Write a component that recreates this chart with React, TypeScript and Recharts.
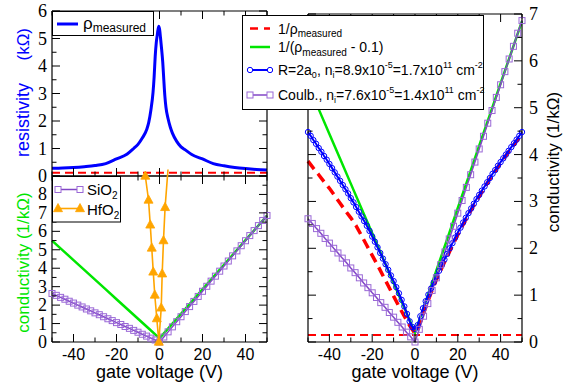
import React from 'react';
import { LineChart, Line, XAxis, YAxis, ReferenceLine } from 'recharts';

const W = 565;
const H = 390;
const SANS = '"Liberation Sans", Arial, Helvetica, sans-serif';
const SERIF = '"Liberation Serif", "Times New Roman", serif';

const BLUE = '#0000ff';
const RED = '#ff0000';
const GREEN = '#00e600';
const PURPLE_LINE = '#8246c6';
const PURPLE_MARK = '#9a68d6';
const ORANGE = '#ffa500';

// ---------------- data ----------------
// top-left: measured resistivity (kOhm) vs gate voltage (V)
const rhoV = [-50, -45, -40, -35, -30, -25, -20, -15, -12, -10, -8, -6, -5, -4, -3, -2.5, -2, -1.5, -1, -0.4, 0, 0.5, 1, 1.5, 2, 2.5, 3, 4, 5, 6, 8, 10, 12, 15, 20, 25, 30, 35, 40, 45, 50];
const rhoMeasured = [0.28, 0.29, 0.31, 0.34, 0.38, 0.45, 0.62, 0.8, 1.0, 1.15, 1.38, 1.68, 1.95, 2.4, 3.05, 3.6, 4.35, 4.85, 5.15, 5.45, 5.35, 5.0, 4.6, 4.15, 3.5, 2.9, 2.5, 2.08, 1.78, 1.56, 1.26, 1.06, 0.95, 0.78, 0.62, 0.45, 0.37, 0.31, 0.27, 0.24, 0.22];
const rhoOffsetLevel = 0.12;

// bottom-left: HfO2 conductivity
const hfV = [-6.6, -5.1, -4.3, -3.6, -2.9, -2.2, -1.25, -0.3, 0.8, 1.25, 1.85, 2.6, 3.95];
const hfSigma = [9.0, 7.7, 6.35, 5.1, 3.8, 2.55, 1.27, 0.0, 1.85, 3.7, 5.5, 7.3, 9.35];

// SiO2 / Coulomb conductivity (1/kOhm), 2 V spacing
const gate2V = [-50, -48, -46, -44, -42, -40, -38, -36, -34, -32, -30, -28, -26, -24, -22, -20, -18, -16, -14, -12, -10, -8, -6, -4, -2, 0, 2, 4, 6, 8, 10, 12, 14, 16, 18, 20, 22, 24, 26, 28, 30, 32, 34, 36, 38, 40, 42, 44, 46, 48, 50];
const sio2Sigma = [2.63, 2.53, 2.42, 2.32, 2.21, 2.11, 2.0, 1.9, 1.79, 1.69, 1.58, 1.48, 1.37, 1.26, 1.16, 1.05, 0.95, 0.84, 0.74, 0.63, 0.53, 0.42, 0.32, 0.21, 0.11, 0.0, 0.27, 0.55, 0.82, 1.1, 1.37, 1.65, 1.92, 2.2, 2.47, 2.75, 3.02, 3.3, 3.57, 3.84, 4.12, 4.39, 4.67, 4.94, 5.22, 5.49, 5.77, 6.04, 6.31, 6.59, 6.86];
const coulombSigma = [2.63, 2.53, 2.42, 2.32, 2.21, 2.11, 2.0, 1.9, 1.79, 1.69, 1.58, 1.48, 1.37, 1.26, 1.16, 1.05, 0.95, 0.84, 0.74, 0.63, 0.53, 0.42, 0.32, 0.21, 0.11, 0.0, 0.27, 0.55, 0.82, 1.1, 1.37, 1.65, 1.92, 2.2, 2.47, 2.75, 3.02, 3.3, 3.57, 3.84, 4.12, 4.39, 4.67, 4.94, 5.22, 5.49, 5.77, 6.04, 6.31, 6.59, 6.86];

// 1/(rho - 0.1), 5 V spacing
const gate5V = [-50, -45, -40, -35, -30, -25, -20, -15, -10, -5, 0, 5, 10, 15, 20, 25, 30, 35, 40, 45, 50];
const sigmaCorrected = [5.5, 4.97, 4.44, 3.91, 3.38, 2.85, 2.32, 1.79, 1.26, 0.73, 0.2, 0.86, 1.53, 2.19, 2.86, 3.52, 4.19, 4.85, 5.52, 6.18, 6.85];

// 1/rho measured, 2.5 V spacing
const gate25V = [-50, -47.5, -45, -42.5, -40, -37.5, -35, -32.5, -30, -27.5, -25, -22.5, -20, -17.5, -15, -12.5, -10, -7.5, -5, -2.5, 0, 2.5, 5, 7.5, 10, 12.5, 15, 17.5, 20, 22.5, 25, 27.5, 30, 32.5, 35, 37.5, 40, 42.5, 45, 47.5, 50];
const sigmaMeasured = [3.86, 3.71, 3.57, 3.42, 3.28, 3.12, 2.96, 2.8, 2.65, 2.48, 2.27, 2.06, 1.85, 1.64, 1.42, 1.2, 0.98, 0.76, 0.55, 0.35, 0.18, 0.42, 0.74, 1.05, 1.33, 1.58, 1.82, 2.06, 2.29, 2.51, 2.72, 2.92, 3.11, 3.3, 3.48, 3.65, 3.82, 3.98, 4.14, 4.29, 4.44];
const sigmaFloorLevel = 0.15;

// R = 2a0 short range model, 1.25 V spacing
const gate125V = [-50, -48.75, -47.5, -46.25, -45, -43.75, -42.5, -41.25, -40, -38.75, -37.5, -36.25, -35, -33.75, -32.5, -31.25, -30, -28.75, -27.5, -26.25, -25, -23.75, -22.5, -21.25, -20, -18.75, -17.5, -16.25, -15, -13.75, -12.5, -11.25, -10, -8.75, -7.5, -6.25, -5, -3.75, -2.5, -1.25, 0, 1.25, 2.5, 3.75, 5, 6.25, 7.5, 8.75, 10, 11.25, 12.5, 13.75, 15, 16.25, 17.5, 18.75, 20, 21.25, 22.5, 23.75, 25, 26.25, 27.5, 28.75, 30, 31.25, 32.5, 33.75, 35, 36.25, 37.5, 38.75, 40, 41.25, 42.5, 43.75, 45, 46.25, 47.5, 48.75, 50];
const shortRangeSigma = [4.48, 4.4, 4.31, 4.23, 4.14, 4.06, 3.97, 3.89, 3.8, 3.71, 3.62, 3.53, 3.44, 3.35, 3.26, 3.17, 3.07, 2.98, 2.88, 2.78, 2.68, 2.58, 2.48, 2.37, 2.25, 2.14, 2.02, 1.9, 1.78, 1.66, 1.54, 1.42, 1.3, 1.17, 1.04, 0.9, 0.76, 0.6, 0.44, 0.32, 0.28, 0.36, 0.55, 0.72, 0.87, 1.01, 1.14, 1.27, 1.4, 1.52, 1.64, 1.76, 1.88, 2.0, 2.11, 2.23, 2.34, 2.44, 2.55, 2.65, 2.75, 2.85, 2.95, 3.05, 3.14, 3.23, 3.32, 3.41, 3.5, 3.59, 3.67, 3.76, 3.84, 3.92, 4.0, 4.08, 4.16, 4.24, 4.32, 4.4, 4.48];

// ticks
const xTicks = [-50, -40, -30, -20, -10, 0, 10, 20, 30, 40, 50];
const rhoTicks = [0, 0.5, 1, 1.5, 2, 2.5, 3, 3.5, 4, 4.5, 5, 5.5, 6];
const condLeftTicks = [0, 0.5, 1, 1.5, 2, 2.5, 3, 3.5, 4, 4.5, 5, 5.5, 6, 6.5, 7, 7.5, 8, 8.5, 9];
const condRightTicks = [0, 0.5, 1, 1.5, 2, 2.5, 3, 3.5, 4, 4.5, 5, 5.5, 6, 6.5, 7];

const pts = (xs: number[], ys: number[]) => xs.map((v, i) => ({ v, y: ys[i] }));

// ---------------- layout ----------------
const LX0 = 52, LX1 = 267;
const TL_TOP = 11, TL_BOT = 176;
const BL_TOP = 176, BL_BOT = 342;
const RX0 = 308, RX1 = 522;
const R_TOP = 14, R_BOT = 342;
const AX = 1; // axis band thickness

const axisStyle = { stroke: '#000', strokeWidth: 1.2 };

type Side = 'bottom' | 'top' | 'left' | 'right';
const isX20 = (v: number) => Math.abs(v % 20) < 1e-9;
const isInt = (v: number) => Math.abs(v - Math.round(v)) < 1e-9;

const mkTick = (side: Side, isMajor: (v: number) => boolean, showLabel: (v: number) => boolean) => (props: any) => {
  const { x, y, payload, index } = props;
  const v = Number(payload.value);
  const major = isMajor(v);
  const len = major ? 8 : 4.5;
  const lbl = major && showLabel(v);
  let x2 = x, y2 = y, tx = x, ty = y;
  let anchor: any = 'middle';
  let fam = SANS;
  let fs = 16;
  if (side === 'bottom') { y2 = y - len; ty = y + 18; }
  else if (side === 'top') { y2 = y + len; }
  else if (side === 'left') { x2 = x + len; tx = x - 5; ty = y + 6; anchor = 'end'; fam = SERIF; fs = 18; }
  else { x2 = x - len; tx = x + 7; ty = y + 6; anchor = 'start'; fam = SERIF; fs = 18; }
  return (
    <g key={`t-${side}-${index}`}>
      <line x1={x} y1={y} x2={x2} y2={y2} stroke="#000" strokeWidth={1} />
      {lbl ? (
        <text x={tx} y={ty} textAnchor={anchor} fontFamily={fam} fontSize={fs} fill="#000">{String(v)}</text>
      ) : null}
    </g>
  );
};

const never = () => false;
const always = () => true;

const squareDot = (p: any) => {
  const { cx, cy, index } = p;
  if (cx == null || cy == null) return <g key={`sq-${index}`} />;
  return <rect key={`sq-${index}`} x={cx - 3} y={cy - 3} width={6} height={6} fill="none" stroke={PURPLE_MARK} strokeWidth={1} />;
};

const triDot = (p: any) => {
  const { cx, cy, index, payload } = p;
  if (cx == null || cy == null || (payload && payload.y > 9.1)) return <g key={`tr-${index}`} />;
  return <path key={`tr-${index}`} d={`M${cx},${cy - 5} L${cx + 4.5},${cy + 3.2} L${cx - 4.5},${cy + 3.2} Z`} fill={ORANGE} stroke={ORANGE} strokeWidth={0.8} />;
};

const abs: React.CSSProperties = { position: 'absolute', left: 0, top: 0 };

function axes(xLabel: boolean, yDomain: number[], yTicks: number[], leftLabel: (v: number) => boolean, rightLabel: (v: number) => boolean) {
  return [
    <XAxis key="xb" xAxisId="b" type="number" dataKey="v" orientation="bottom" domain={[-50, 50]} ticks={xTicks} interval={0} height={AX} tickSize={0} tickMargin={0} tickLine={false} axisLine={axisStyle} tick={mkTick('bottom', isX20, xLabel ? always : never)} />,
    <XAxis key="xt" xAxisId="t" type="number" dataKey="v" orientation="top" domain={[-50, 50]} allowDataOverflow ticks={xTicks} interval={0} height={AX} tickSize={0} tickMargin={0} tickLine={false} axisLine={axisStyle} tick={mkTick('top', isX20, never)} />,
    <YAxis key="yl" yAxisId="l" type="number" orientation="left" domain={yDomain} ticks={yTicks} interval={0} width={AX} tickSize={0} tickMargin={0} tickLine={false} axisLine={axisStyle} tick={mkTick('left', isInt, leftLabel)} />,
    <YAxis key="yr" yAxisId="r" type="number" orientation="right" domain={yDomain} allowDataOverflow ticks={yTicks} interval={0} width={AX} tickSize={0} tickMargin={0} tickLine={false} axisLine={axisStyle} tick={mkTick('right', isInt, rightLabel)} />,
  ];
}

const frameMargin = (x0: number, x1: number, y0: number, y1: number) => ({
  top: y0 - AX,
  left: x0 - AX,
  right: W - x1 - AX,
  bottom: H - y1 - AX,
});

export default function App() {
  const unitBL = (BL_BOT - BL_TOP) / 9;
  const hfTop = BL_BOT - 10 * unitBL;
  return (
    <div style={{ position: 'absolute', left: 0, top: 0, width: W, height: H, background: '#fff', overflow: 'hidden' }}>
      {/* top-left: resistivity */}
      <div style={abs}>
        <LineChart width={W} height={H} margin={frameMargin(LX0, LX1, TL_TOP, TL_BOT)}>
          {axes(false, [0, 6], rhoTicks, (v) => v <= 6, never)}
          <ReferenceLine xAxisId="b" yAxisId="l" y={rhoOffsetLevel} stroke={RED} strokeWidth={2} strokeDasharray="8 5" />
          <Line xAxisId="b" yAxisId="l" data={pts(rhoV, rhoMeasured)} dataKey="y" type="monotone" stroke={BLUE} strokeWidth={3} dot={false} isAnimationActive={false} />
        </LineChart>
      </div>
      {/* bottom-left: conductivity */}
      <div style={abs}>
        <LineChart width={W} height={H} margin={frameMargin(LX0, LX1, BL_TOP, BL_BOT)}>
          {axes(true, [0, 9], condLeftTicks, (v) => v <= 8, never)}
          <Line xAxisId="b" yAxisId="l" data={pts(gate5V, sigmaCorrected)} dataKey="y" type="linear" stroke={GREEN} strokeWidth={2.5} dot={false} isAnimationActive={false} />
          <Line xAxisId="b" yAxisId="l" data={pts(gate2V, sio2Sigma)} dataKey="y" type="linear" stroke={PURPLE_LINE} strokeWidth={1.5} dot={squareDot} isAnimationActive={false} />
        </LineChart>
      </div>
      {/* HfO2 overlay (same scale, taller range so the curve can pass the frame) */}
      <div style={abs}>
        <LineChart width={W} height={H} margin={{ top: hfTop, left: LX0, right: W - LX1, bottom: H - BL_BOT }}>
          <XAxis xAxisId="h" type="number" dataKey="v" domain={[-50, 50]} hide />
          <YAxis yAxisId="h" type="number" domain={[0, 10]} hide />
          <Line xAxisId="h" yAxisId="h" data={pts(hfV, hfSigma)} dataKey="y" type="linear" stroke={ORANGE} strokeWidth={1.6} dot={triDot} isAnimationActive={false} />
        </LineChart>
      </div>
      {/* right: conductivity comparison */}
      <div style={abs}>
        <LineChart width={W} height={H} margin={frameMargin(RX0, RX1, R_TOP, R_BOT)}>
          {axes(true, [0, 7], condRightTicks, never, always)}
          <ReferenceLine xAxisId="b" yAxisId="l" y={sigmaFloorLevel} stroke={RED} strokeWidth={2} strokeDasharray="8 5" />
          <Line xAxisId="b" yAxisId="l" data={pts(gate5V, sigmaCorrected)} dataKey="y" type="linear" stroke={GREEN} strokeWidth={2.5} dot={false} isAnimationActive={false} />
          <Line xAxisId="b" yAxisId="l" data={pts(gate25V, sigmaMeasured)} dataKey="y" type="linear" stroke={RED} strokeWidth={3.5} strokeDasharray="10 6" dot={false} isAnimationActive={false} />
          <Line xAxisId="b" yAxisId="l" data={pts(gate125V, shortRangeSigma)} dataKey="y" type="linear" stroke={BLUE} strokeWidth={2} dot={{ r: 2.7, stroke: BLUE, strokeWidth: 1, fill: 'none' }} isAnimationActive={false} />
          <Line xAxisId="b" yAxisId="l" data={pts(gate2V, coulombSigma)} dataKey="y" type="linear" stroke={PURPLE_LINE} strokeWidth={1.5} dot={squareDot} isAnimationActive={false} />
        </LineChart>
      </div>
      {/* titles and legends */}
      <svg width={W} height={H} style={abs}>
        <text transform="translate(29,157) rotate(-90)" fontFamily={SANS} fontSize={18} fill={BLUE}>resistivity</text>
        <text transform="translate(29,28) rotate(-90)" textAnchor="end" fontFamily={SANS} fontSize={17} fill={BLUE}>(kΩ)</text>
        <text transform="translate(29,262.5) rotate(-90)" textAnchor="middle" fontFamily={SANS} fontSize={17} fill={GREEN}>conductivity (1/kΩ)</text>
        <text transform="translate(559,162) rotate(-90)" textAnchor="middle" fontFamily={SANS} fontSize={17} fill="#000">conductivity (1/kΩ)</text>
        <text x={159.5} y={378} textAnchor="middle" fontFamily={SANS} fontSize={18} fill="#000">gate voltage (V)</text>
        <text x={415} y={378} textAnchor="middle" fontFamily={SANS} fontSize={18} fill="#000">gate voltage (V)</text>

        {/* top-left legend */}
        <rect x={52.5} y={11.5} width={101} height={24} fill="#fff" stroke="#000" strokeWidth={1} />
        <line x1={57} y1={24} x2={78} y2={24} stroke={BLUE} strokeWidth={3} />
        <text x={83} y={29} fontFamily={SANS} fontSize={17} fill="#000" style={{ whiteSpace: 'pre' }}>ρ<tspan dy={3} fontSize={12}>measured</tspan></text>

        {/* bottom-left legend */}
        <rect x={52.5} y={176.5} width={68} height={45.5} fill="#fff" stroke="#000" strokeWidth={1} />
        <line x1={58} y1={189.5} x2={80} y2={189.5} stroke={PURPLE_LINE} strokeWidth={1.5} />
        <rect x={55} y={186.5} width={6} height={6} fill="#fff" stroke={PURPLE_MARK} strokeWidth={1} />
        <rect x={77} y={186.5} width={6} height={6} fill="#fff" stroke={PURPLE_MARK} strokeWidth={1} />
        <text x={87} y={195} fontFamily={SANS} fontSize={15} fill="#000">SiO<tspan dy={4} fontSize={10}>2</tspan></text>
        <line x1={58} y1={208.5} x2={80} y2={208.5} stroke={ORANGE} strokeWidth={1.6} />
        <path d="M58,203.5 L62.5,211.7 L53.5,211.7 Z" fill={ORANGE} stroke={ORANGE} strokeWidth={0.8} />
        <path d="M80,203.5 L84.5,211.7 L75.5,211.7 Z" fill={ORANGE} stroke={ORANGE} strokeWidth={0.8} />
        <text x={87} y={215} fontFamily={SANS} fontSize={15} fill="#000">HfO<tspan dy={4} fontSize={10}>2</tspan></text>

        {/* right legend */}
        <rect x={242.5} y={15.5} width={241} height={94} fill="#fff" stroke="#000" strokeWidth={1} />
        <line x1={250} y1={28.5} x2={270} y2={28.5} stroke={RED} strokeWidth={2.5} strokeDasharray="8 6" />
        <text x={278} y={33.5} fontFamily={SANS} fontSize={14} fill="#000" style={{ whiteSpace: 'pre' }}>1/ρ<tspan dy={3.5} fontSize={10}>measured</tspan></text>
        <line x1={250} y1={47} x2={270} y2={47} stroke={GREEN} strokeWidth={2.5} />
        <text x={278} y={52} fontFamily={SANS} fontSize={14} fill="#000" style={{ whiteSpace: 'pre' }}>1/(ρ<tspan dy={3.5} fontSize={10}>measured</tspan><tspan dy={-3.5}> - 0.1)</tspan></text>
        <line x1={250} y1={70} x2={270} y2={70} stroke={BLUE} strokeWidth={2} />
        <circle cx={250} cy={70} r={2.7} fill="#fff" stroke={BLUE} strokeWidth={1} />
        <circle cx={270} cy={70} r={2.7} fill="#fff" stroke={BLUE} strokeWidth={1} />
        <text x={278} y={75} fontFamily={SANS} fontSize={14} fill="#000" style={{ whiteSpace: 'pre' }}>R=2a<tspan dy={3} fontSize={9}>0</tspan><tspan dy={-3}>, n</tspan><tspan dy={3} fontSize={9}>i</tspan><tspan dy={-3}>=8.9x10</tspan><tspan dy={-7} fontSize={9}>-5</tspan><tspan dy={7}>=1.7x10</tspan><tspan dy={-7} fontSize={9}>11</tspan><tspan dy={7}> cm</tspan><tspan dy={-7} fontSize={9}>-2</tspan></text>
        <line x1={250} y1={95} x2={270} y2={95} stroke={PURPLE_LINE} strokeWidth={1.5} />
        <rect x={247} y={92} width={6} height={6} fill="#fff" stroke={PURPLE_MARK} strokeWidth={1} />
        <rect x={267} y={92} width={6} height={6} fill="#fff" stroke={PURPLE_MARK} strokeWidth={1} />
        <text x={278} y={100} fontFamily={SANS} fontSize={14} fill="#000" style={{ whiteSpace: 'pre' }}>Coulb., n<tspan dy={3} fontSize={9}>i</tspan><tspan dy={-3}>=7.6x10</tspan><tspan dy={-7} fontSize={9}>-5</tspan><tspan dy={7}>=1.4x10</tspan><tspan dy={-7} fontSize={9}>11</tspan><tspan dy={7}> cm</tspan><tspan dy={-7} fontSize={9}>-2</tspan></text>
      </svg>
    </div>
  );
}
